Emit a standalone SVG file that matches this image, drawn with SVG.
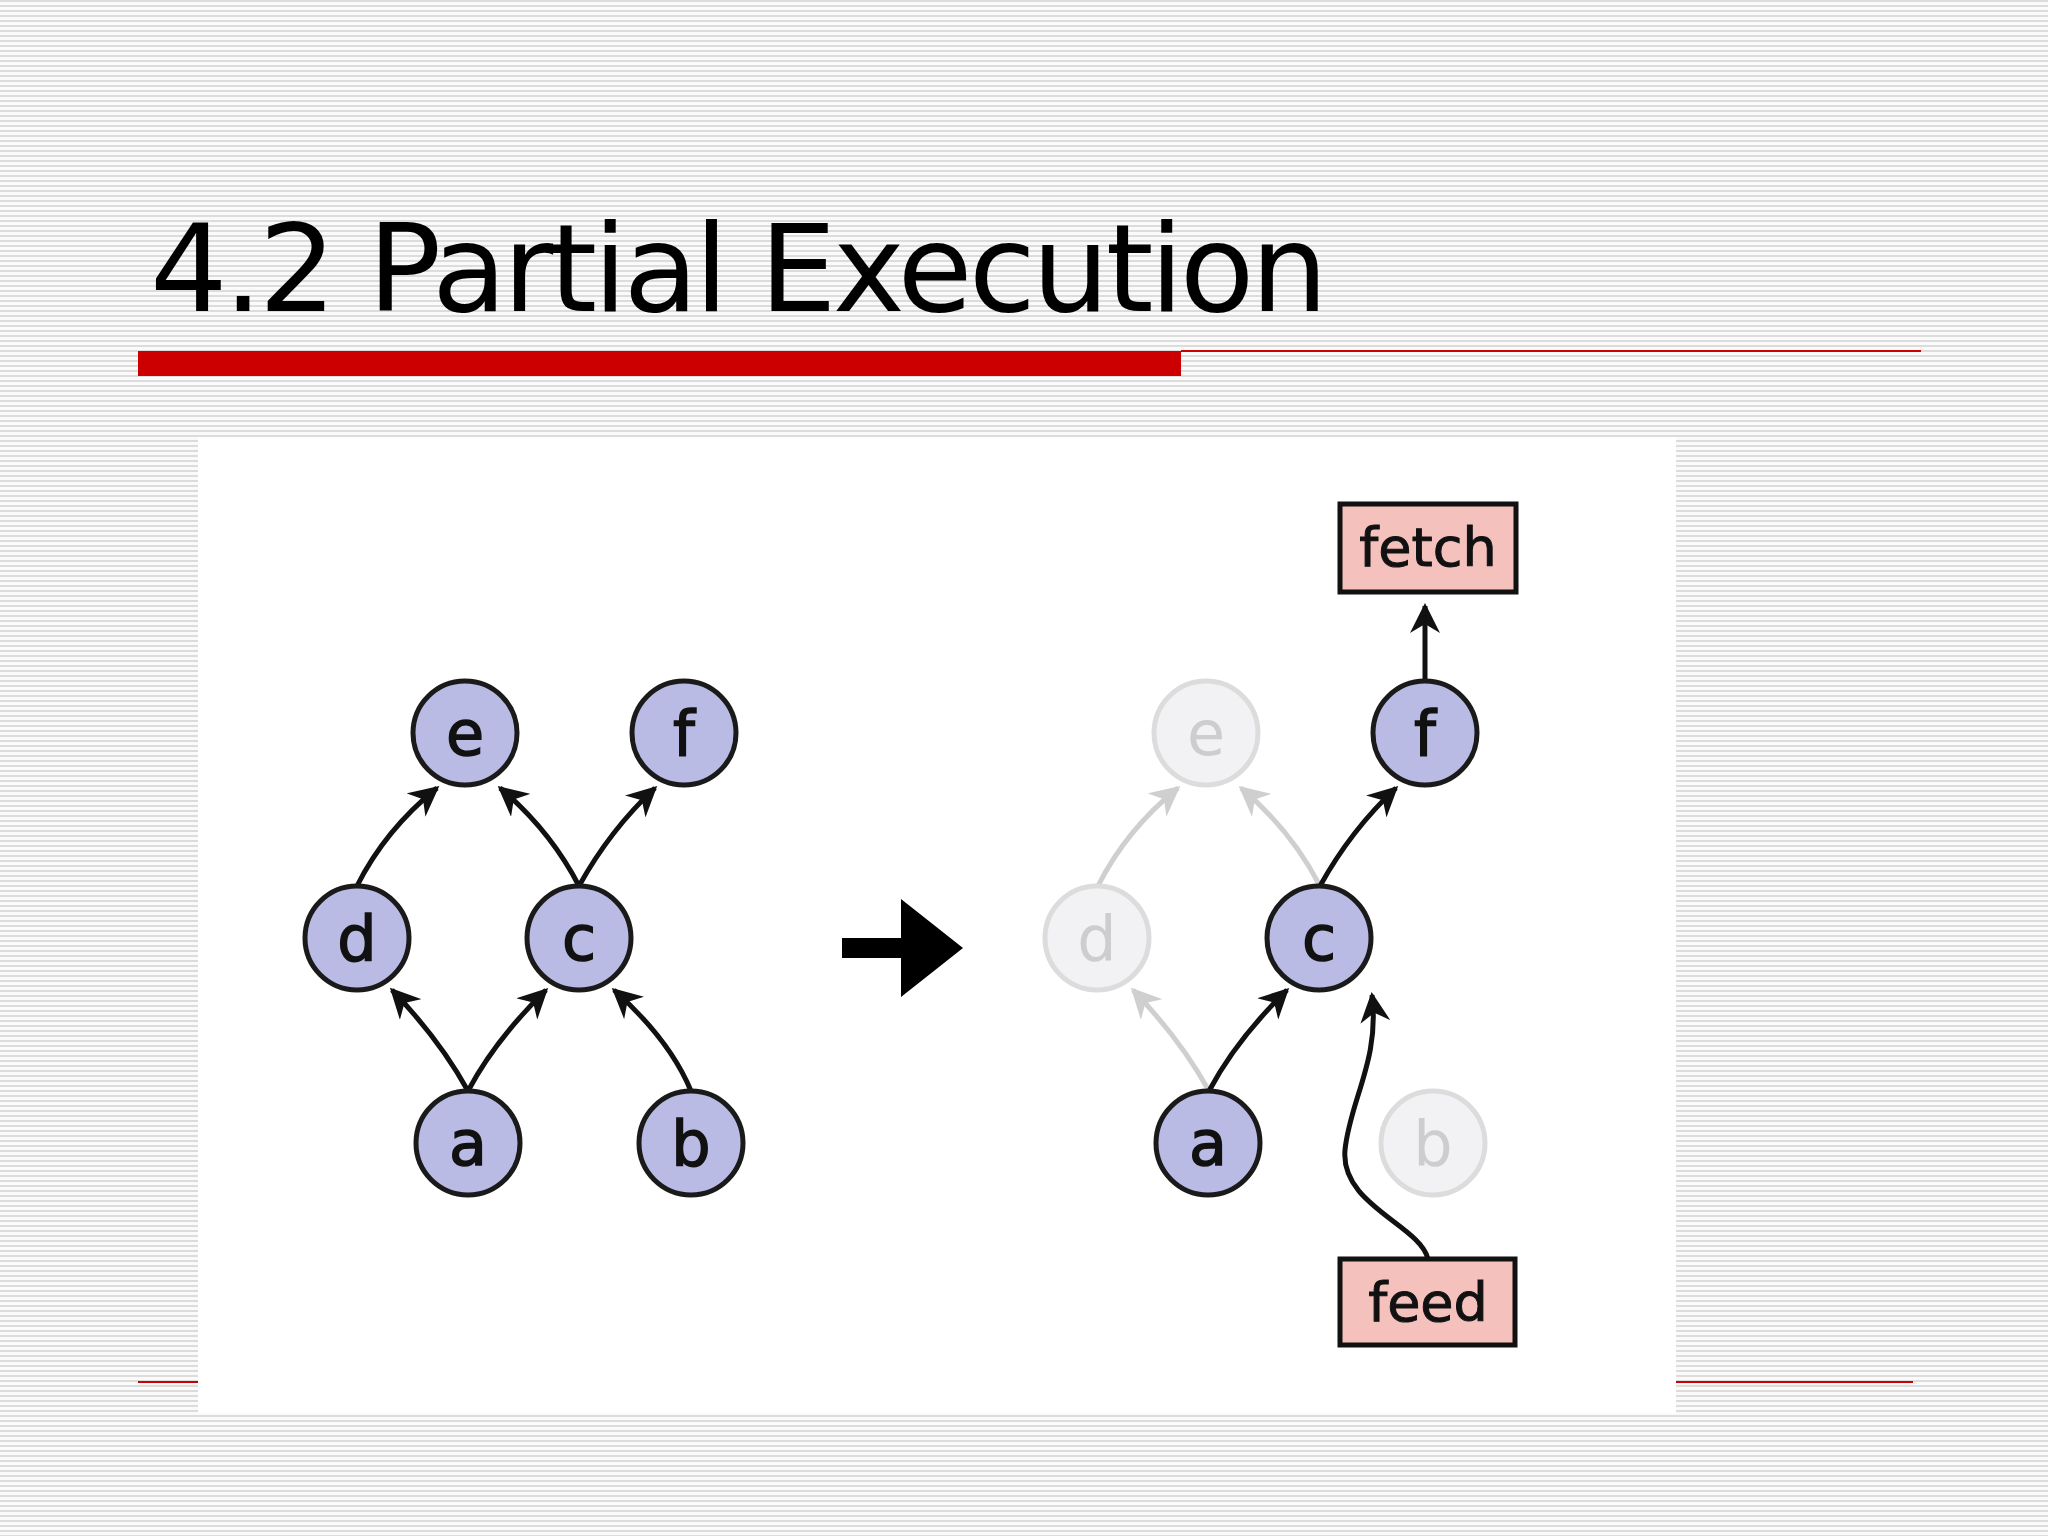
<svg xmlns="http://www.w3.org/2000/svg" width="2048" height="1536" viewBox="0 0 2048 1536">
<defs>
<pattern id="bg" width="8" height="5" patternUnits="userSpaceOnUse"><rect width="8" height="5" fill="#fafafa"/><rect y="0" width="8" height="2" fill="#dcdcdc"/></pattern>
<marker id="ab" viewBox="0 0 10 10" refX="9" refY="5" markerWidth="30" markerHeight="30" markerUnits="userSpaceOnUse" orient="auto"><path d="M0,0 L10,5 L0,10 L3,5 Z" fill="#111"/></marker>
<marker id="ag" viewBox="0 0 10 10" refX="9" refY="5" markerWidth="30" markerHeight="30" markerUnits="userSpaceOnUse" orient="auto"><path d="M0,0 L10,5 L0,10 L3,5 Z" fill="#cfcfcf"/></marker>
</defs>
<style>
.n circle{fill:#babbe4;stroke:#1a1a1a;stroke-width:5}
.g circle{fill:#f2f2f5;stroke:#dcdcdc;stroke-width:5}
text{font-family:"DejaVu Sans",sans-serif}
.n text{font-size:62px;fill:#111;text-anchor:middle;stroke:#111;stroke-width:1.5}
.g text{font-size:62px;fill:#cdcdcd;text-anchor:middle}
.b rect{fill:#f4c1bd;stroke:#111;stroke-width:5}
.b text{font-size:54px;fill:#111;text-anchor:middle;stroke:#111;stroke-width:1}
.e{fill:none;stroke:#111;stroke-width:5;marker-end:url(#ab)}
.eg{fill:none;stroke:#cfcfcf;stroke-width:5;marker-end:url(#ag)}
</style>
<rect width="2048" height="1536" fill="url(#bg)"/>
<text x="150" y="311" font-size="122" textLength="1178" fill="#000">4.2 Partial Execution</text>
<rect x="138" y="351" width="1043" height="25" fill="#cc0000"/>
<rect x="1181" y="350" width="740" height="2" fill="#cc0000"/>
<rect x="138" y="1381" width="60" height="2" fill="#cc0000"/>
<rect x="1676" y="1381" width="237" height="2" fill="#cc0000"/>
<rect x="198" y="437" width="1478" height="976" fill="#fff"/>
<path d="M842,938 h59 v-39 l62,49 l-62,49 v-39 h-59 z" fill="#000"/>
<g id="connectors">
<path class="e" d="M357,886 Q385,830 437,788"/>
<path class="e" d="M579,886 Q550,830 500,788"/>
<path class="e" d="M579,886 Q610,830 655,788"/>
<path class="e" d="M468,1091 Q440,1040 392,990"/>
<path class="e" d="M468,1091 Q495,1040 546,990"/>
<path class="e" d="M691,1091 Q670,1040 614,990"/>
<path class="eg" d="M1098,886 Q1126,830 1178,788"/>
<path class="eg" d="M1320,886 Q1291,830 1241,788"/>
<path class="e" d="M1320,886 Q1351,830 1396,788"/>
<path class="eg" d="M1209,1091 Q1181,1040 1133,990"/>
<path class="e" d="M1209,1091 Q1236,1040 1287,990"/>
<path class="e" d="M1425,681 L1425,606"/>
<path class="e" d="M1428,1259 C1420,1225 1340,1205 1345,1150 C1350,1100 1380,1060 1372,995"/>
</g>
<g id="e" class="n"><circle cx="465" cy="733" r="52"/><text x="465" y="755">e</text></g>
<g id="f" class="n"><circle cx="684" cy="733" r="52"/><text x="684" y="755">f</text></g>
<g id="d" class="n"><circle cx="357" cy="938" r="52"/><text x="357" y="960">d</text></g>
<g id="c" class="n"><circle cx="579" cy="938" r="52"/><text x="579" y="960">c</text></g>
<g id="a" class="n"><circle cx="468" cy="1143" r="52"/><text x="468" y="1165">a</text></g>
<g id="b" class="n"><circle cx="691" cy="1143" r="52"/><text x="691" y="1165">b</text></g>
<g id="e2" class="g"><circle cx="1206" cy="733" r="52"/><text x="1206" y="755">e</text></g>
<g id="f2" class="n"><circle cx="1425" cy="733" r="52"/><text x="1425" y="755">f</text></g>
<g id="d2" class="g"><circle cx="1097" cy="938" r="52"/><text x="1097" y="960">d</text></g>
<g id="c2" class="n"><circle cx="1319" cy="938" r="52"/><text x="1319" y="960">c</text></g>
<g id="a2" class="n"><circle cx="1208" cy="1143" r="52"/><text x="1208" y="1165">a</text></g>
<g id="b2" class="g"><circle cx="1433" cy="1143" r="52"/><text x="1433" y="1165">b</text></g>
<g id="fetch" class="b"><rect x="1340" y="504" width="176" height="88"/><text x="1428" y="566">fetch</text></g>
<g id="feed" class="b"><rect x="1340" y="1259" width="175" height="86"/><text x="1428" y="1321">feed</text></g>
</svg>
